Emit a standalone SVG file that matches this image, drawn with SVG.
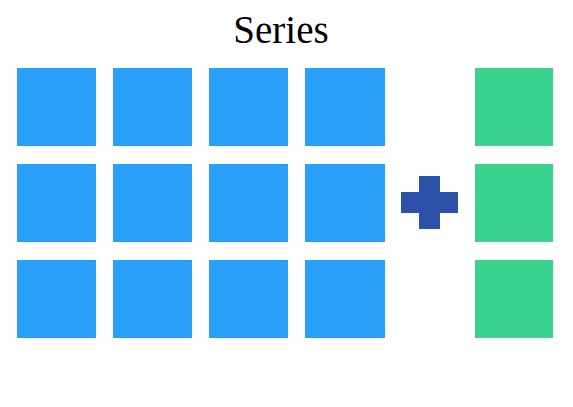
<svg xmlns="http://www.w3.org/2000/svg" width="573" height="407" viewBox="0 0 573 407">
<style>
.b{fill:#28a0f9}
.g{fill:#3ad18f}
.p{fill:#2b51a8}
.t{font-family:"Liberation Serif",serif;font-size:39px;fill:#000}
</style>
<rect width="573" height="407" fill="#fff"/>
<text class="t" x="281" y="43" text-anchor="middle">Series</text>
<g id="blue">
<rect class="b" x="17" y="68" width="79" height="78"/>
<rect class="b" x="113" y="68" width="79" height="78"/>
<rect class="b" x="209" y="68" width="79" height="78"/>
<rect class="b" x="305" y="68" width="80" height="78"/>
<rect class="b" x="17" y="164" width="79" height="78"/>
<rect class="b" x="113" y="164" width="79" height="78"/>
<rect class="b" x="209" y="164" width="79" height="78"/>
<rect class="b" x="305" y="164" width="80" height="78"/>
<rect class="b" x="17" y="260" width="79" height="78"/>
<rect class="b" x="113" y="260" width="79" height="78"/>
<rect class="b" x="209" y="260" width="79" height="78"/>
<rect class="b" x="305" y="260" width="80" height="78"/>
</g>
<g id="plus">
<rect class="p" x="401" y="192" width="57" height="21"/>
<rect class="p" x="419" y="176" width="21" height="53"/>
</g>
<g id="green">
<rect class="g" x="475" y="68" width="78" height="78"/>
<rect class="g" x="475" y="164" width="78" height="78"/>
<rect class="g" x="475" y="260" width="78" height="78"/>
</g>
</svg>
